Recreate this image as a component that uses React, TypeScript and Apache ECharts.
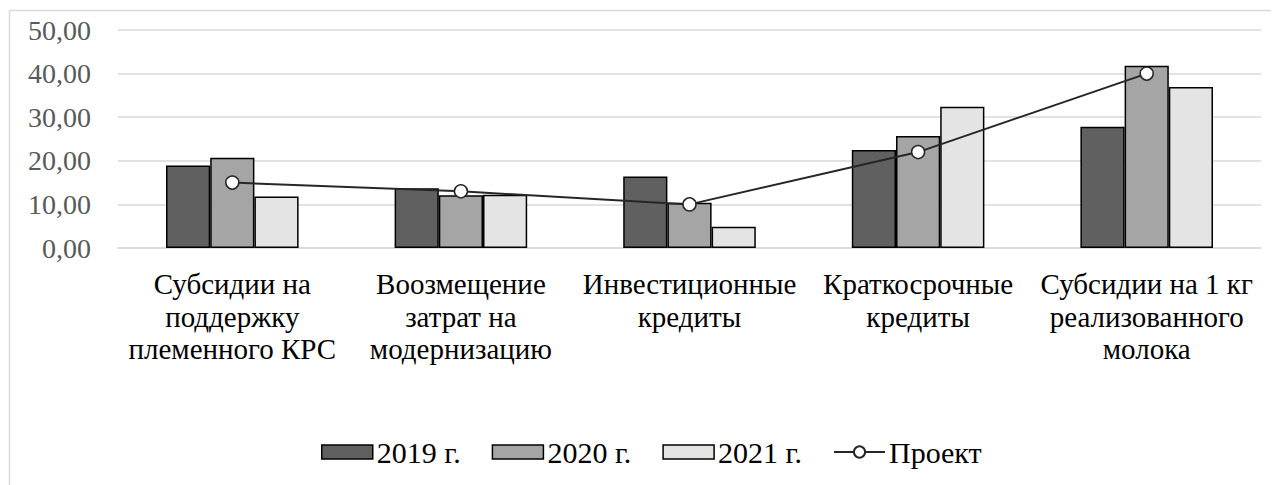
import React, { useEffect, useRef } from "react";
import * as echarts from "echarts";

const categories = [
  "Субсидии на\nподдержку\nплеменного КРС",
  "Воозмещение\nзатрат на\nмодернизацию",
  "Инвестиционные\nкредиты",
  "Краткосрочные\nкредиты",
  "Субсидии на 1 кг\nреализованного\nмолока",
];
const values2019 = [18.9, 13.7, 16.4, 22.5, 27.8];
const values2020 = [20.7, 12.1, 10.4, 25.7, 41.8];
const values2021 = [11.8, 12.2, 4.9, 32.4, 36.9];
const valuesProject = [15, 13, 10, 22, 40];

const FONT = "Liberation Serif";

export default function App() {
  const ref = useRef<HTMLDivElement>(null);
  useEffect(() => {
    if (!ref.current) return;
    const chart = echarts.init(ref.current, undefined, { renderer: "svg" });
    const barStyle = (color: string) => ({
      color,
      borderColor: "#000",
      borderWidth: 1.5,
    });
    chart.setOption({
      animation: false,
      backgroundColor: "#fff",
      textStyle: { fontFamily: FONT },
      graphic: [
        {
          type: "rect",
          shape: { x: 1.5, y: 2.5, width: 1400, height: 700 },
          style: { fill: "none", stroke: "#d9d9d9", lineWidth: 1.5 },
          silent: true,
        },
      ],
      grid: { left: 110, right: 18, top: 22, bottom: 237, containLabel: false },
      legend: {
        top: 424,
        left: 308,
        itemWidth: 51,
        itemHeight: 14,
        itemGap: 31,
        textStyle: { fontFamily: FONT, fontSize: 30, lineHeight: 30, color: "#000", padding: [0, 0, 0, -1] },
        data: [
          { name: "2019 г.", icon: "rect", itemStyle: barStyle("#606060") },
          { name: "2020 г.", icon: "rect", itemStyle: barStyle("#a5a5a5") },
          { name: "2021 г.", icon: "rect", itemStyle: barStyle("#e4e4e4") },
          { name: "Проект" },
        ],
      },
      xAxis: {
        type: "category",
        data: categories,
        axisLine: { show: true, lineStyle: { color: "#d9d9d9", width: 1.5 } },
        axisTick: { show: false },
        axisLabel: {
          fontFamily: FONT,
          fontSize: 29,
          color: "#000",
          lineHeight: 32.5,
          margin: 20,
          interval: 0,
        },
      },
      yAxis: {
        type: "value",
        min: 0,
        max: 50,
        interval: 10,
        axisLine: { show: false },
        axisTick: { show: false },
        splitLine: { lineStyle: { color: "#d9d9d9", width: 1.5 } },
        axisLabel: {
          fontFamily: FONT,
          fontSize: 28,
          color: "#595959",
          margin: 27,
          formatter: (v: number) => v.toFixed(2).replace(".", ","),
        },
      },
      series: [
        {
          name: "2019 г.",
          type: "bar",
          data: values2019,
          barGap: "0%",
          barCategoryGap: "42%",
          itemStyle: barStyle("#606060"),
        },
        {
          name: "2020 г.",
          type: "bar",
          data: values2020,
          barGap: "0%",
          barCategoryGap: "42%",
          itemStyle: barStyle("#a5a5a5"),
        },
        {
          name: "2021 г.",
          type: "bar",
          data: values2021,
          barGap: "0%",
          barCategoryGap: "42%",
          itemStyle: barStyle("#e4e4e4"),
        },
        {
          name: "Проект",
          type: "line",
          data: valuesProject,
          symbol: "circle",
          symbolSize: 13,
          lineStyle: { color: "#262626", width: 2 },
          itemStyle: { color: "#fff", borderColor: "#262626", borderWidth: 1.5 },
          z: 5,
        },
      ],
    });
    return () => chart.dispose();
  }, []);
  return <div ref={ref} style={{ width: 1271, height: 477 }} />;
}
